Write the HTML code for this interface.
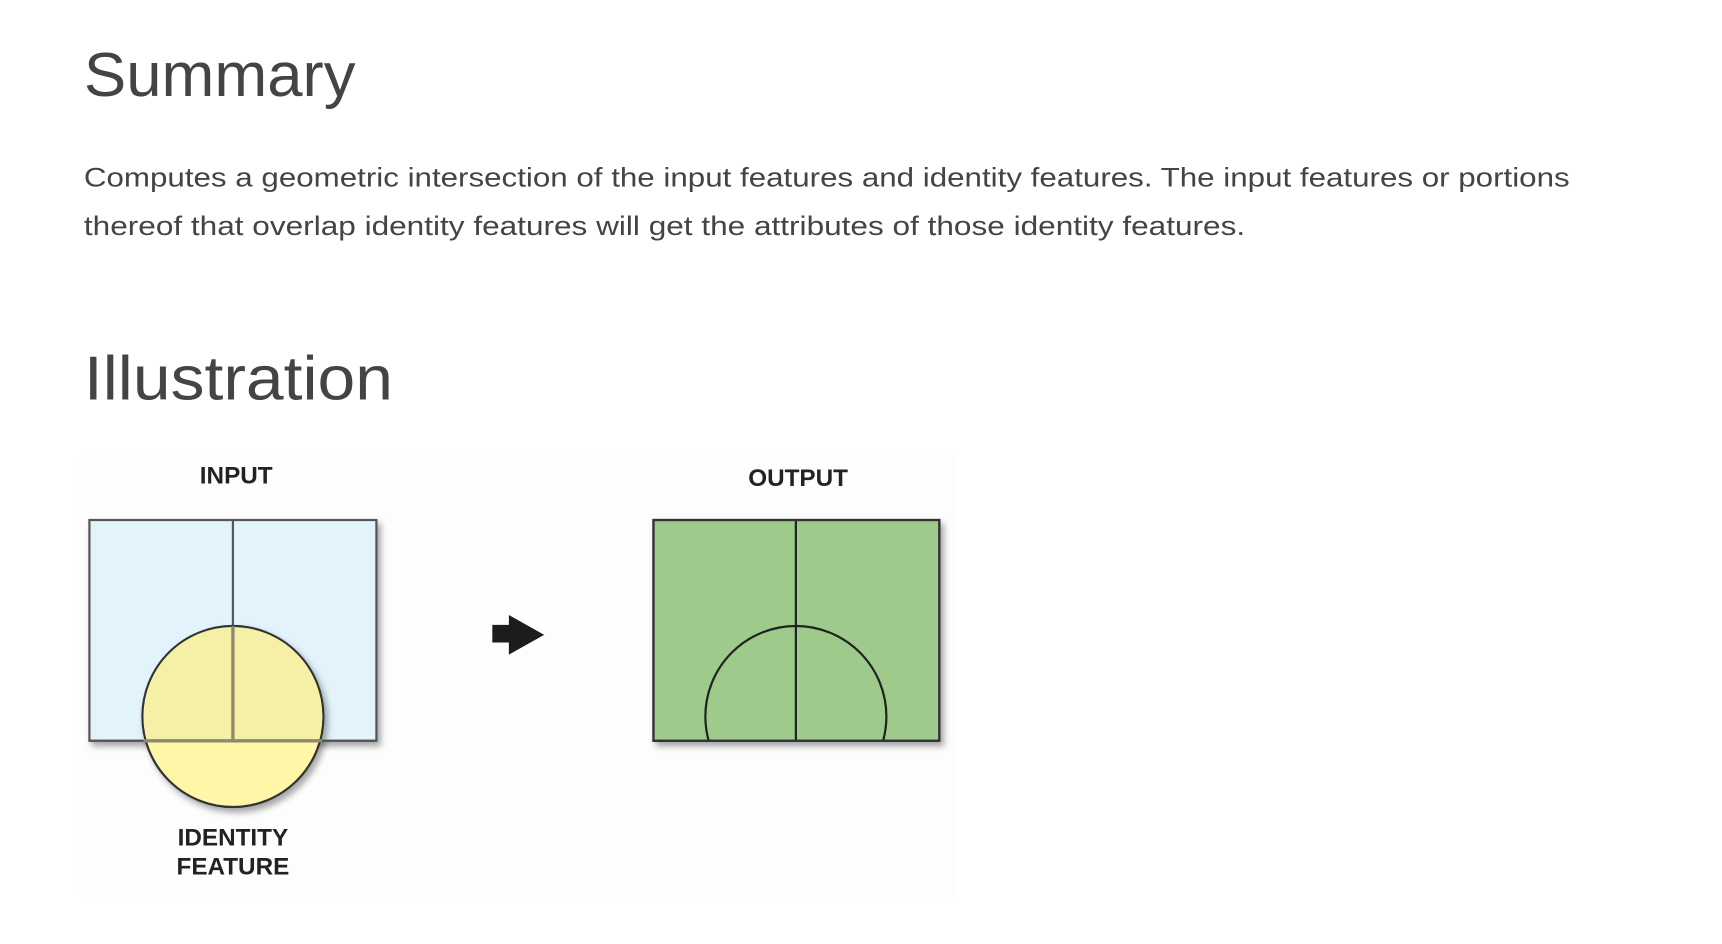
<!DOCTYPE html>
<html><head><meta charset="utf-8"><style>
html,body{margin:0;padding:0;background:#fff;}
svg{display:block;}
</style></head><body>
<svg width="1722" height="944" viewBox="0 0 1560 855" xmlns="http://www.w3.org/2000/svg">
<defs>
<filter id="sh" x="-10%" y="-10%" width="130%" height="130%"><feDropShadow dx="3" dy="4" stdDeviation="3" flood-color="#000" flood-opacity="0.35"/></filter>
<clipPath id="rc"><rect x="82" y="474" width="260" height="200"/></clipPath>
<clipPath id="oc"><rect x="593" y="474" width="259" height="200"/></clipPath>
</defs>
<text x="76" y="87" font-family="Liberation Sans, sans-serif" font-size="56" fill="#444" textLength="246" lengthAdjust="spacingAndGlyphs">Summary</text>
<text x="76" y="169" font-family="Liberation Sans, sans-serif" font-size="24" fill="#444" textLength="1346" lengthAdjust="spacingAndGlyphs">Computes a geometric intersection of the input features and identity features. The input features or portions</text>
<text x="76" y="213" font-family="Liberation Sans, sans-serif" font-size="24" fill="#444" textLength="1052" lengthAdjust="spacingAndGlyphs">thereof that overlap identity features will get the attributes of those identity features.</text>
<text x="76" y="362" font-family="Liberation Sans, sans-serif" font-size="56" fill="#444" textLength="280" lengthAdjust="spacingAndGlyphs">Illustration</text>
<rect x="72" y="412" width="793" height="400" fill="#fdfdfd"/>
<g transform="translate(-1,-3)">
<text x="215" y="441" text-anchor="middle" font-family="Liberation Sans, sans-serif" font-weight="bold" font-size="22" fill="#222">INPUT</text>
<text x="724" y="443" text-anchor="middle" font-family="Liberation Sans, sans-serif" font-weight="bold" font-size="22" fill="#222">OUTPUT</text>
<g>
<rect x="82" y="474" width="260" height="200" fill="#e2f3fc" stroke="#555" stroke-width="2" filter="url(#sh)"/>
<line x1="212" y1="474" x2="212" y2="570" stroke="#555" stroke-width="2"/>
<circle cx="212" cy="652" r="82" fill="#fff6a8" stroke="#333" stroke-width="2" filter="url(#sh)"/>
<circle cx="212" cy="652" r="81" fill="#f5f0a6" clip-path="url(#rc)"/>
<line x1="212" y1="570" x2="212" y2="674" stroke="#8a8a70" stroke-width="3"/>
<line x1="131" y1="674" x2="293" y2="674" stroke="#8a8a70" stroke-width="3"/>
<line x1="82" y1="674" x2="131" y2="674" stroke="#555" stroke-width="2"/>
<line x1="293" y1="674" x2="342" y2="674" stroke="#555" stroke-width="2"/>
</g>
<text x="212" y="769" text-anchor="middle" font-family="Liberation Sans, sans-serif" font-weight="bold" font-size="22" fill="#222">IDENTITY</text>
<text x="212" y="795" text-anchor="middle" font-family="Liberation Sans, sans-serif" font-weight="bold" font-size="22" fill="#222">FEATURE</text>
<polygon points="447,569 462,569 462,560 494,578 462,596 462,585 447,585" fill="#1c1c1c"/>
<g>
<rect x="593" y="474" width="259" height="200" fill="#9ecb8c" stroke="#333" stroke-width="2" filter="url(#sh)"/>
<circle cx="722" cy="652" r="82" fill="none" stroke="#222" stroke-width="2" clip-path="url(#oc)"/>
<line x1="722" y1="474" x2="722" y2="674" stroke="#222" stroke-width="2"/>
<rect x="593" y="474" width="259" height="200" fill="none" stroke="#333" stroke-width="2"/>
</g>
</g>
</svg>
</body></html>
